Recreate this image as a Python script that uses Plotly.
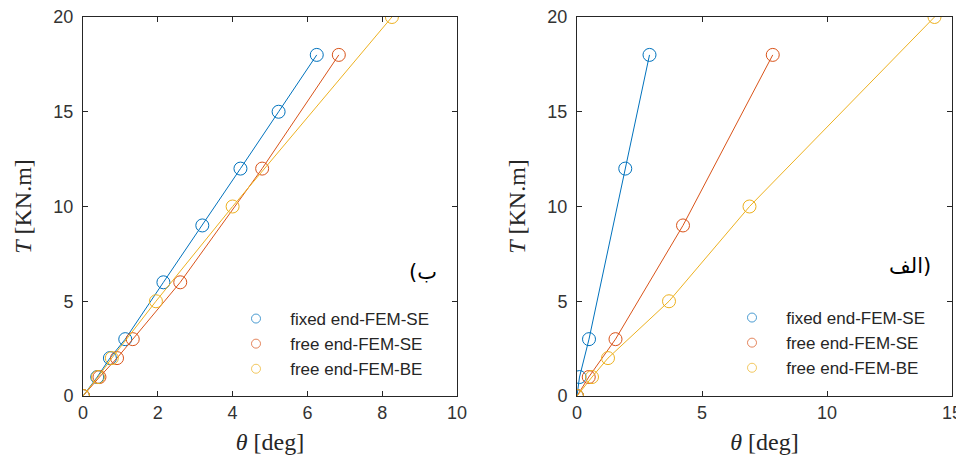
import plotly.graph_objects as go

# ---- data: panel (ب) left ----
theta_fixed_b = [0, 0.38, 0.72, 1.13, 2.15, 3.19, 4.21, 5.23, 6.25]
T_fixed_b = [0, 1, 2, 3, 6, 9, 12, 15, 18]
theta_freeSE_b = [0, 0.44, 0.91, 1.33, 2.60, 4.79, 6.84]
T_freeSE_b = [0, 1, 2, 3, 6, 12, 18]
theta_freeBE_b = [0, 0.40, 0.77, 1.95, 4.00, 8.26]
T_freeBE_b = [0, 1, 2, 5, 10, 20]

# ---- data: panel (الف) right ----
theta_fixed_a = [0, 0.10, 0.48, 1.93, 2.90]
T_fixed_a = [0, 1, 3, 12, 18]
theta_freeSE_a = [0, 0.47, 1.54, 4.24, 7.83]
T_freeSE_a = [0, 1, 3, 9, 18]
theta_freeBE_a = [0, 0.60, 1.24, 3.68, 6.90, 14.30]
T_freeBE_a = [0, 1, 2, 5, 10, 20]

series_names = ["fixed end-FEM-SE", "free end-FEM-SE", "free end-FEM-BE"]
colors = ["#0072BD", "#D95319", "#EDB120"]

# page body has an 8px margin
OFF = 8
W, H = 964 - OFF, 465 - 2 * OFF
def fx(xs): return (xs - OFF) / W
def fy(ys): return 1 - (ys - OFF) / H

fig = go.Figure()

panels = [
    ("x", "y", "legend", [(theta_fixed_b, T_fixed_b), (theta_freeSE_b, T_freeSE_b), (theta_freeBE_b, T_freeBE_b)]),
    ("x2", "y2", "legend2", [(theta_fixed_a, T_fixed_a), (theta_freeSE_a, T_freeSE_a), (theta_freeBE_a, T_freeBE_a)]),
]
NB = "\u00a0\u00a0\u00a0"
for xa, ya, lg, data in panels:
    for (xs, ys), name, c in zip(data, series_names, colors):
        fig.add_trace(go.Scatter(
            x=xs, y=ys, mode="lines+markers", xaxis=xa, yaxis=ya,
            line=dict(color=c, width=1),
            marker=dict(symbol="circle-open", size=13, color=c, line=dict(width=1, color=c)),
            showlegend=False, hoverinfo="skip"))
    for name, c in zip(series_names, colors):
        fig.add_trace(go.Scatter(
            x=[None], y=[None], mode="markers", xaxis=xa, yaxis=ya, name=NB + name,
            marker=dict(symbol="circle-open", size=9, color=c, line=dict(width=1, color=c), opacity=0.7),
            showlegend=True, legend=lg))

axis_common = dict(showline=True, mirror="ticks", ticks="inside", ticklen=5,
                   linecolor="#262626", linewidth=1, tickcolor="#262626",
                   showgrid=False, zeroline=False, automargin=False,
                   ticklabeloverflow="allow",
                   tickfont=dict(family="Liberation Sans, Arial", size=18, color="#333333"))
title_font = dict(family="Liberation Serif, Times New Roman, serif", size=24, color="#262626")

ytop, ybot = 17, 396
legend_font = dict(family="Liberation Sans, Arial", size=17, color="#262626")
LRM = "\u200e"
fig.update_layout(
    width=W, height=H, margin=dict(l=0, r=0, t=0, b=0),
    paper_bgcolor="white", plot_bgcolor="white",
    xaxis=dict(domain=[fx(83), fx(457)], range=[0, 10], dtick=2, anchor="y",
               title=dict(text="<i>θ</i> [deg]", font=title_font, standoff=11), **axis_common),
    yaxis=dict(domain=[fy(ybot), fy(ytop)], range=[0, 20], dtick=5, anchor="x",
               ticklabelstandoff=5,
               title=dict(text="<i>T</i> [KN.m]", font=title_font, standoff=14), **axis_common),
    xaxis2=dict(domain=[fx(577), fx(952)], range=[0, 15], dtick=5, anchor="y2",
                title=dict(text="<i>θ</i> [deg]", font=title_font, standoff=11), **axis_common),
    yaxis2=dict(domain=[fy(ybot), fy(ytop)], range=[0, 20], dtick=5, anchor="x2",
                ticklabelstandoff=5,
                title=dict(text="<i>T</i> [KN.m]", font=title_font, standoff=14), **axis_common),
    legend=dict(x=fx(236), y=fy(301), xanchor="left", yanchor="top",
                bgcolor="rgba(255,255,255,0)", borderwidth=0,
                tracegroupgap=0, font=legend_font),
    legend2=dict(x=fx(732), y=fy(300), xanchor="left", yanchor="top",
                 bgcolor="rgba(255,255,255,0)", borderwidth=0,
                 tracegroupgap=0, font=legend_font),
    annotations=[
        dict(text=LRM + "(" + LRM + "ب" + LRM, x=fx(423), y=fy(272), xref="paper", yref="paper",
             showarrow=False, xanchor="center", yanchor="middle",
             font=dict(family="DejaVu Sans", size=21, color="black")),
        dict(text=LRM + "الف" + LRM + ")" + LRM, x=fx(910), y=fy(266), xref="paper", yref="paper",
             showarrow=False, xanchor="center", yanchor="middle",
             font=dict(family="DejaVu Sans", size=21, color="black")),
    ],
)

fig.write_html("out.html")
